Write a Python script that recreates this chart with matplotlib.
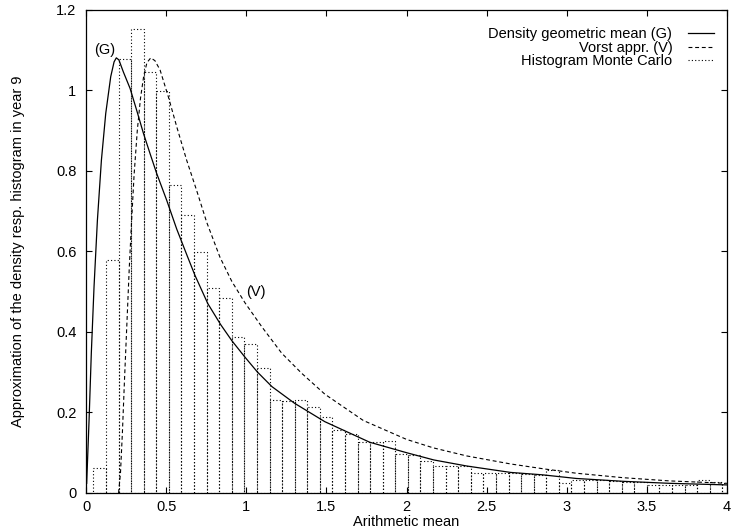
import matplotlib
matplotlib.use("Agg")
import matplotlib.pyplot as plt
from matplotlib.lines import Line2D
from matplotlib.ticker import FuncFormatter, MultipleLocator

plt.rcParams["font.family"] = ["Liberation Sans", "DejaVu Sans"]
plt.rcParams["font.size"] = 10.5

# Monte Carlo histogram of the arithmetic mean (year 9)
hist_start = 0.046
hist_width = 0.0785
hist_heights = [
    0.062, 0.578, 1.076, 1.151, 1.044, 0.998, 0.764, 0.690, 0.598, 0.510,
    0.485, 0.386, 0.371, 0.311, 0.231, 0.229, 0.232, 0.213, 0.188, 0.156,
    0.146, 0.126, 0.126, 0.128, 0.097, 0.094, 0.080, 0.067, 0.066, 0.066,
    0.050, 0.050, 0.049, 0.049, 0.048, 0.045, 0.057, 0.025, 0.032, 0.032,
    0.032, 0.029, 0.028, 0.028, 0.021, 0.021, 0.020, 0.020, 0.032, 0.027,
    0.025,
]

# density of the geometric mean (G)
g_x = [0.004, 0.019, 0.033, 0.050, 0.071, 0.096, 0.123, 0.154, 0.175, 0.189,
       0.205, 0.233, 0.275, 0.316, 0.358, 0.399, 0.441, 0.503, 0.566, 0.628,
       0.680, 0.760, 0.840, 0.910, 0.990, 1.070, 1.160, 1.300, 1.490, 1.770,
       2.000, 2.170, 2.375, 2.650, 2.850, 3.060, 3.350, 3.640, 4.000]
g_y = [0.024, 0.181, 0.347, 0.512, 0.677, 0.826, 0.942, 1.033, 1.070, 1.080,
       1.075, 1.045, 1.004, 0.950, 0.893, 0.843, 0.793, 0.727, 0.655, 0.592,
       0.540, 0.470, 0.418, 0.378, 0.338, 0.300, 0.264, 0.223, 0.177, 0.126,
       0.100, 0.082, 0.067, 0.051, 0.045, 0.036, 0.029, 0.024, 0.020]

# Vorst approximation (V)
v_x = [0.203, 0.215, 0.227, 0.240, 0.255, 0.270, 0.285, 0.300, 0.320, 0.340,
       0.360, 0.380, 0.404, 0.430, 0.462, 0.514, 0.566, 0.628, 0.691, 0.753,
       0.836, 0.910, 0.992, 1.096, 1.221, 1.346, 1.491, 1.730, 2.000, 2.167,
       2.375, 2.650, 2.854, 3.060, 3.350, 3.640, 4.000]
v_y = [0.000, 0.050, 0.150, 0.280, 0.420, 0.560, 0.680, 0.790, 0.900, 0.980,
       1.035, 1.068, 1.080, 1.073, 1.050, 0.983, 0.909, 0.826, 0.750, 0.672,
       0.585, 0.525, 0.472, 0.413, 0.347, 0.297, 0.245, 0.180, 0.133, 0.112,
       0.092, 0.072, 0.060, 0.049, 0.038, 0.030, 0.024]

DOTTED = (0, (1, 2))
DASHED = (0, (3.5, 2.5))

fig = plt.figure(figsize=(7.34, 5.31), dpi=100)
ax = fig.add_axes([0.1172, 0.0716, 0.8733, 0.9105])

edges = [hist_start + i * hist_width for i in range(len(hist_heights))]
ax.bar(edges, hist_heights, width=hist_width, align="edge", fill=False,
       edgecolor="black", linewidth=0.8, linestyle=DOTTED)
ax.plot(g_x, g_y, color="black", linewidth=0.9)
ax.plot(v_x, v_y, color="black", linewidth=0.8, linestyle=DASHED)

ax.text(0.05, 1.1, "(G)", ha="left", va="center")
ax.text(1.0, 0.5, "(V)", ha="left", va="center")

ax.set_xlim(0, 4)
ax.set_ylim(0, 1.2)
ax.xaxis.set_major_locator(MultipleLocator(0.5))
ax.yaxis.set_major_locator(MultipleLocator(0.2))
fmt = FuncFormatter(lambda v, _: f"{v:g}")
ax.xaxis.set_major_formatter(fmt)
ax.yaxis.set_major_formatter(fmt)
ax.tick_params(direction="in", top=True, right=True, length=4, width=0.8)
ax.tick_params(axis="x", pad=5)
ax.tick_params(axis="y", pad=7)
for side in ax.spines.values():
    side.set_linewidth(0.9)

ax.set_xlabel("Arithmetic mean", labelpad=1)
ax.set_ylabel("Approximation of the density resp. histogram in year 9", labelpad=22)

handles = [
    Line2D([], [], color="black", linewidth=0.9),
    Line2D([], [], color="black", linewidth=0.8, linestyle=DASHED),
    Line2D([], [], color="black", linewidth=0.8, linestyle=DOTTED),
]
labels = ["Density geometric mean (G)", "Vorst appr. (V)", "Histogram Monte Carlo"]
ax.legend(handles, labels, loc="upper right", bbox_to_anchor=(1.0, 0.99),
          frameon=False, markerfirst=False,
          handlelength=1.75, handletextpad=1.1, labelspacing=-0.05,
          borderaxespad=0.5)

fig.savefig("out.png", dpi=100)
